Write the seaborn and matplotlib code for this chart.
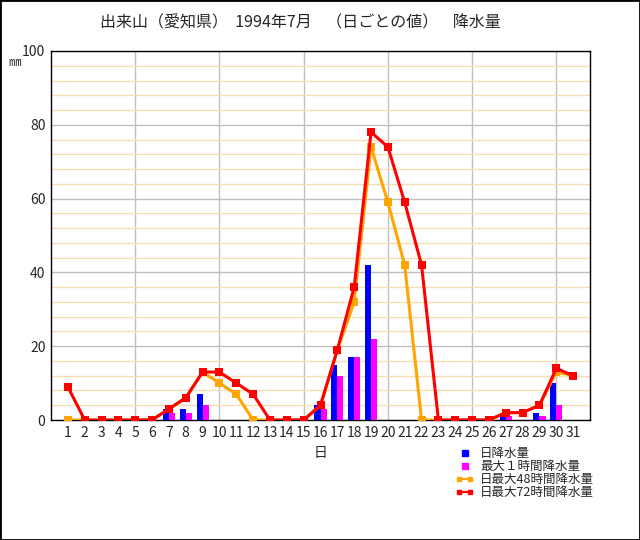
import pandas as pd
import matplotlib
matplotlib.use("Agg")
import matplotlib.pyplot as plt
from matplotlib.lines import Line2D
from matplotlib.legend_handler import HandlerLine2D
from matplotlib.patches import Rectangle
from matplotlib.ticker import MultipleLocator
import seaborn as sns

sns.set_style("white")
plt.rcParams['font.family'] = ['Noto Sans CJK JP', 'DejaVu Sans']

days = list(range(1, 32))
daily = [0, 0, 0, 0, 0, 0, 3, 3, 7, 0, 0, 0, 0, 0, 0, 4, 15, 17, 42, 0,
         0, 0, 0, 0, 0, 0, 2, 0, 2, 10, 0]
max_1h = [0, 0, 0, 0, 0, 0, 2, 2, 4, 0, 0, 0, 0, 0, 0, 3, 12, 17, 22, 0,
          0, 0, 0, 0, 0, 0, 1, 0, 1, 4, 0]
max_48h = [0, 0, 0, 0, 0, 0, 3, 6, 13, 10, 7, 0, 0, 0, 0, 4, 19, 32, 74, 59,
           42, 0, 0, 0, 0, 0, 2, 2, 4, 13, 12]
max_72h = [9, 0, 0, 0, 0, 0, 3, 6, 13, 13, 10, 7, 0, 0, 0, 4, 19, 36, 78, 74,
           59, 42, 0, 0, 0, 0, 2, 2, 4, 14, 12]

labels = ["日降水量", "最大１時間降水量", "日最大48時間降水量", "日最大72時間降水量"]
colors = ["#0000FF", "#FF00FF", "#FFA500", "#FF0000"]

bars = pd.DataFrame({
    "day": days * 2,
    "value": daily + max_1h,
    "kind": [labels[0]] * 31 + [labels[1]] * 31,
})

fig = plt.figure(figsize=(6.4, 5.4), dpi=100)
ax = fig.add_axes([51 / 640, 1 - 420 / 540, 539 / 640, 369 / 540])

sns.barplot(data=bars, x="day", y="value", hue="kind", native_scale=True,
            palette=colors[:2], width=0.72, dodge=True, saturation=1,
            errorbar=None, legend=False, linewidth=0, ax=ax, zorder=3)

sns.lineplot(x=days, y=max_48h, color=colors[2], marker="s", markersize=5.5,
             markeredgewidth=0, linewidth=2.2, errorbar=None, ax=ax, zorder=4)
sns.lineplot(x=days, y=max_72h, color=colors[3], marker="s", markersize=6,
             markeredgewidth=0, linewidth=2.2, errorbar=None, ax=ax, zorder=5)

ax.set_xlim(0, 32)
ax.set_ylim(0, 100)
ax.set_xticks(days)
ax.set_xticklabels([str(d) for d in days])
ax.yaxis.set_major_locator(MultipleLocator(20))
ax.yaxis.set_minor_locator(MultipleLocator(4))
ax.grid(axis="y", which="minor", color="#F5DEB3", linewidth=1, zorder=0)
ax.grid(axis="y", which="major", color="#C0C0C0", linewidth=1, zorder=0)
for d in range(5, 31, 5):
    ax.axvline(d, color="#C0C0C0", linewidth=1, zorder=0)
ax.set_axisbelow(True)
ax.tick_params(axis="both", which="both", length=0, labelsize=10, pad=4)
for s in ax.spines.values():
    s.set_color("black")
    s.set_linewidth(1)
    s.set_visible(True)

ax.set_xlabel("日", fontsize=10, labelpad=5)
ax.set_ylabel("")
fig.text(15 / 640, 1 - 62 / 540, "㎜", fontsize=9, ha="center", va="center")
fig.text(300 / 640, 1 - 23 / 540,
         "出来山（愛知県）  1994年7月    （日ごとの値）    降水量",
         fontsize=11.5, ha="center", va="center")

handles = [
    Line2D([], [], color=colors[0], marker="s", linestyle="none", markersize=5),
    Line2D([], [], color=colors[1], marker="s", linestyle="none", markersize=5),
    Line2D([], [], color=colors[2], marker="s", markersize=2.5, linewidth=1.5),
    Line2D([], [], color=colors[3], marker="s", markersize=2.5, linewidth=1.5),
]
fig.legend(handles, labels, loc="upper left", bbox_to_anchor=(449 / 640, 1 - 441 / 540),
           frameon=False, fontsize=9, handlelength=1.5, handletextpad=0.5,
           labelspacing=0.0, borderpad=0, numpoints=2,
           handler_map={handles[0]: HandlerLine2D(numpoints=1),
                        handles[1]: HandlerLine2D(numpoints=1)})

fig.add_artist(Rectangle((0, 0), 1, 1, transform=fig.transFigure, fill=False,
                         edgecolor="black", linewidth=2))

fig.savefig("out.png", dpi=100)
